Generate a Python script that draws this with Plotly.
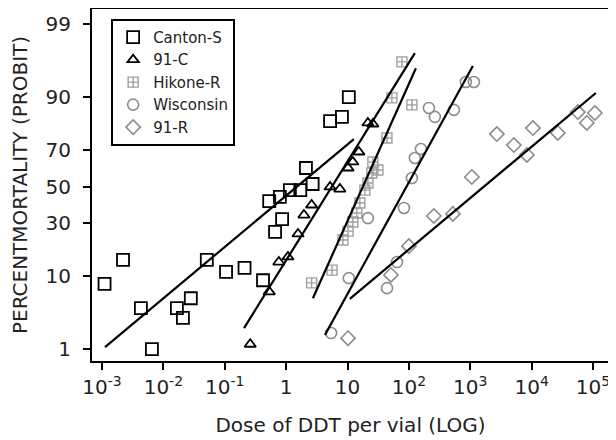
import plotly.graph_objects as go
from statistics import NormalDist

# ---- data (dose of DDT per vial, percent mortality) ----
canton_dose = [0.0011, 0.0022, 0.0043, 0.0065, 0.0166, 0.0208, 0.028, 0.051, 0.105, 0.21, 0.42,
               0.66, 0.86, 0.53, 0.79, 1.15, 1.7, 2.7, 2.1, 5.2, 8.1, 10.5]
canton_pct = [8.2, 14.7, 4.1, 1.0, 4.1, 3.0, 5.5, 14.7, 11.1, 12.2, 9.0,
              25.8, 32.1, 41.8, 44.1, 48.0, 48.0, 51.5, 60.5, 82.6, 84.1, 90.0]

c91_dose = [0.26, 0.53, 0.76, 1.07, 1.56, 1.95, 2.6, 5.2, 7.5, 10.2, 12.2, 15.3, 21.5, 25.9]
c91_pct = [1.2, 6.6, 14.0, 15.7, 24.9, 34.2, 39.6, 49.8, 48.6, 60.5, 63.8, 69.0, 81.9, 81.5]

hikone_dose = [2.6, 5.6, 8.4, 10.2, 12.2, 14.2, 15.9, 19.2, 21.5, 24.9, 31.3, 25.9, 43.9, 52.8, 112, 77]
hikone_pct = [8.4, 11.6, 22.2, 26.2, 30.6, 35.3, 40.7, 48.0, 52.1, 57.7, 59.4, 63.8, 75.7, 89.8, 87.9, 96.3]

wisc_dose = [5.4, 10.5, 21.5, 44, 64, 83, 112, 125, 157, 212, 265, 541, 847, 1145]
wisc_pct = [1.8, 9.5, 32.6, 7.3, 14.0, 38.0, 54.9, 65.9, 70.5, 87.0, 84.1, 86.4, 93.3, 93.3]

r91_dose = [10.2, 51, 100, 255, 521, 1060, 2710, 5130, 8360, 10470, 26700, 56500, 79200, 107000]
r91_pct = [1.5, 10.3, 19.7, 33.7, 34.8, 55.5, 77.4, 72.4, 67.5, 79.9, 77.9, 85.7, 81.9, 85.4]

# fitted probit lines (end points)
fit_canton_x, fit_canton_y = [0.00112, 12.7], [1.08, 75.2]
fit_c91_x, fit_c91_y = [0.206, 125], [2.14, 97.2]
fit_hikone_x, fit_hikone_y = [2.73, 130], [5.5, 95.5]
fit_wisc_x, fit_wisc_y = [4.29, 1100], [1.68, 95.8]
fit_r91_x, fit_r91_y = [10.9, 111000], [5.4, 91.0]

y_ticks = [1, 10, 30, 50, 70, 90, 99]
x_tickvals = [1e-3, 1e-2, 1e-1, 1, 10, 1e2, 1e3, 1e4, 1e5]
x_ticktext = ["10<sup>-3</sup>", "10<sup>-2</sup>", "10<sup>-1</sup>", "1", "10",
              "10<sup>2</sup>", "10<sup>3</sup>", "10<sup>4</sup>", "10<sup>5</sup>"]

nd = NormalDist()


def probit(vals):
    return [nd.inv_cdf(v / 100.0) for v in vals]


FONT = "DejaVu Sans"
GREY = "#8c8c8c"

fig = go.Figure()

series = [
    ("Canton-S", canton_dose, canton_pct, "square-open", 12, "black", 1.8),
    ("91-C", c91_dose, c91_pct, "triangle-up-open", 10, "black", 1.8),
    ("Hikone-R", hikone_dose, hikone_pct, "square-cross-open", 10, "#a0a0a0", 1.4),
    ("Wisconsin", wisc_dose, wisc_pct, "circle-open", 11, GREY, 1.6),
    ("91-R", r91_dose, r91_pct, "diamond-open", 11, GREY, 1.6),
]
for name, xs, ys, sym, size, col, lw in series:
    fig.add_trace(go.Scatter(
        x=xs, y=probit(ys), mode="markers", name=name,
        marker=dict(symbol=sym, size=size, color=col, line=dict(color=col, width=lw)),
    ))

for fx, fy in [(fit_canton_x, fit_canton_y), (fit_c91_x, fit_c91_y), (fit_hikone_x, fit_hikone_y),
               (fit_wisc_x, fit_wisc_y), (fit_r91_x, fit_r91_y)]:
    fig.add_trace(go.Scatter(x=fx, y=probit(fy), mode="lines", showlegend=False,
                             line=dict(color="black", width=2.2)))

# the page body has an 8px margin, so the figure is sized to fit the window
fig.update_layout(
    width=608, height=432,
    margin=dict(l=84, r=7, t=1, b=79),
    paper_bgcolor="white", plot_bgcolor="white",
    font=dict(family=FONT, color="#222222", size=20),
    showlegend=True,
    legend=dict(x=0.037, y=0.972, xanchor="left", yanchor="top",
                bordercolor="black", borderwidth=2, bgcolor="white",
                font=dict(family=FONT, size=15, color="#222222"),
                tracegroupgap=0, itemsizing="trace"),
)
fig.update_xaxes(
    type="log", range=[-3.163, 5.26], automargin=False,
    tickvals=x_tickvals, ticktext=x_ticktext,
    ticks="outside", ticklen=7, tickwidth=2, tickcolor="black",
    showline=True, linecolor="black", linewidth=2, mirror=True,
    showgrid=False, zeroline=False,
    tickfont=dict(size=20),
    title=dict(text="Dose of DDT per vial (LOG)", font=dict(size=20), standoff=20),
)
fig.update_yaxes(
    range=[-2.497, 2.543], automargin=False,
    tickvals=probit(y_ticks), ticktext=[str(v) for v in y_ticks],
    ticks="outside", ticklen=7, tickwidth=2, tickcolor="black",
    showline=True, linecolor="black", linewidth=2, mirror=True,
    showgrid=False, zeroline=False,
    tickfont=dict(size=20), ticklabelstandoff=8,
    title=dict(text="PERCENTMORTALITY (PROBIT)", font=dict(size=20), standoff=14),
)

fig.write_html("out.html")
